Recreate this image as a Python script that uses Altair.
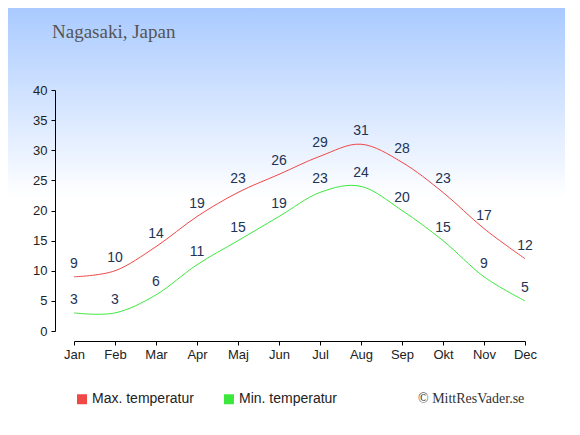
import altair as alt
import pandas as pd

months = ["Jan", "Feb", "Mar", "Apr", "Maj", "Jun", "Jul", "Aug", "Sep", "Okt", "Nov", "Dec"]
max_temp = [9, 10, 14, 19, 23, 26, 29, 31, 28, 23, 17, 12]
min_temp = [3, 3, 6, 11, 15, 19, 23, 24, 20, 15, 9, 5]
series_names = ["Max. temperatur", "Min. temperatur"]
series_colors = ["#f04747", "#3de83d"]
y_ticks = [0, 5, 10, 15, 20, 25, 30, 35, 40]
title_text = "Nagasaki, Japan"
copyright_text = "© MittResVader.se"

rows = []
for m, v in zip(months, max_temp):
    rows.append({"Månad": m, "Temp": v, "Serie": series_names[0]})
for m, v in zip(months, min_temp):
    rows.append({"Månad": m, "Temp": v, "Serie": series_names[1]})
df = pd.DataFrame(rows)

W, H = 451, 241
PL, PT, PR, PB = 66, 82, 40, 86

axis_common = dict(title=None, tickSize=4, domainColor="#000", tickColor="#000",
                   labelColor="#222", labelFont="Liberation Sans", labelFontSize=13,
                   grid=False, zindex=1, labelOverlap=False)
x_enc = alt.X("Månad:N", sort=months,
              scale=alt.Scale(type="point", padding=0),
              axis=alt.Axis(labelAngle=0, offset=10, labelPadding=3, **axis_common))
y_enc = alt.Y("Temp:Q", scale=alt.Scale(domain=[0, 40], nice=False),
              axis=alt.Axis(values=y_ticks, tickCount=20, offset=19, labelPadding=4,
                            **axis_common))
color_scale = alt.Scale(domain=series_names, range=series_colors)
legend = alt.Legend(title=None, orient="none", legendX=1, legendY=302,
                    direction="horizontal", symbolType="square",
                    symbolSize=25, symbolStrokeWidth=5, symbolOpacity=1,
                    labelFont="Liberation Sans", labelFontSize=14,
                    labelColor="#222", labelOffset=3,
                    columnPadding=22, padding=0)

bg = alt.Chart(pd.DataFrame({"a": [0]})).mark_rect(
    color=alt.Gradient(gradient="linear",
                       stops=[alt.GradientStop(color="#a9caff", offset=0),
                              alt.GradientStop(color="#ffffff", offset=1)],
                       x1=0, x2=0, y1=0, y2=1)
).encode(x=alt.value(-PL), x2=alt.value(W + PR), y=alt.value(-PT), y2=alt.value(108))

lines = alt.Chart(df).mark_line(interpolate="cardinal", strokeWidth=1).encode(
    x=x_enc, y=y_enc,
    color=alt.Color("Serie:N", scale=color_scale, legend=legend),
)

labels = alt.Chart(df).mark_text(dy=-13, fontSize=14, font="Liberation Sans",
                                 color="#223355", baseline="middle").encode(
    x=x_enc, y=y_enc, text="Temp:Q")

title = alt.Chart(pd.DataFrame({"t": [title_text]})).mark_text(
    align="left", baseline="alphabetic", font="Liberation Serif", fontSize=19, color="#555"
).encode(text="t:N", x=alt.value(-22), y=alt.value(-52))

copy = alt.Chart(pd.DataFrame({"t": [copyright_text]})).mark_text(
    align="left", baseline="middle", font="Liberation Serif", fontSize=14, color="#333"
).encode(text="t:N", x=alt.value(344), y=alt.value(309))

chart = alt.layer(bg, lines, labels, title, copy).properties(
    width=W, height=H,
    autosize=alt.AutoSizeParams(type="none"),
    padding={"left": PL, "top": PT, "right": PR, "bottom": PB},
).configure_view(stroke=None)

chart.save("out.html", embed_options={"renderer": "svg", "actions": False})
